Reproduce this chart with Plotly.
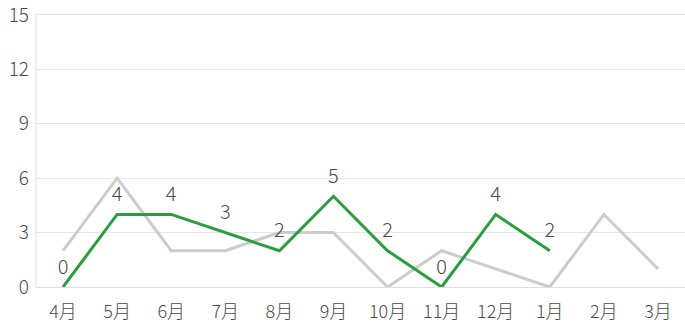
import plotly.graph_objects as go

months = ["4月", "5月", "6月", "7月", "8月", "9月", "10月", "11月", "12月", "1月", "2月", "3月"]
prev_year = [2, 6, 2, 2, 3, 3, 0, 2, 1, 0, 4, 1]
this_year = [0, 4, 4, 3, 2, 5, 2, 0, 4, 2]
y_ticks = [0, 3, 6, 9, 12, 15]

font_family = "Noto Sans CJK JP, Noto Sans, sans-serif"

fig = go.Figure()
fig.add_trace(go.Scatter(
    x=months, y=prev_year, mode="lines",
    line=dict(color="#cccccc", width=3),
    hoverinfo="skip", cliponaxis=False,
))
fig.add_trace(go.Scatter(
    x=months[:len(this_year)], y=this_year, mode="lines+markers+text",
    line=dict(color="#2a9d3f", width=3),
    marker=dict(size=12, color="rgba(0,0,0,0)"),
    text=[str(v) for v in this_year], textposition="top center",
    textfont=dict(size=20, color="#4a4a4a", family=font_family, weight=300),
    cliponaxis=False,
))

fig.update_layout(
    width=685, height=330,
    margin=dict(l=36, r=0, t=0, b=43),
    paper_bgcolor="white", plot_bgcolor="white",
    showlegend=False,
    font=dict(family=font_family, color="#4a4a4a"),
    xaxis=dict(
        type="category", categoryorder="array", categoryarray=months,
        range=[-0.5, 11.5], showgrid=False,
        showline=True, linecolor="#e0e0e0", linewidth=1,
        ticks="", ticklabelstandoff=8,
        tickfont=dict(size=18, color="#4a4a4a", weight=300),
        fixedrange=True,
    ),
    yaxis=dict(
        range=[0, 15.6], tickvals=y_ticks, ticktext=[str(v) for v in y_ticks],
        ticklabeloverflow="allow",
        showgrid=True, gridcolor="#e6e6e6", gridwidth=1,
        showline=False, zeroline=False, ticks="", ticklabelstandoff=6,
        tickfont=dict(size=19, color="#4a4a4a", weight=300),
        fixedrange=True,
    ),
    shapes=[dict(type="line", xref="paper", yref="y", x0=0, x1=0, y0=0, y1=15,
                 line=dict(color="#e0e0e0", width=1))],
)

fig.write_html("out.html")
